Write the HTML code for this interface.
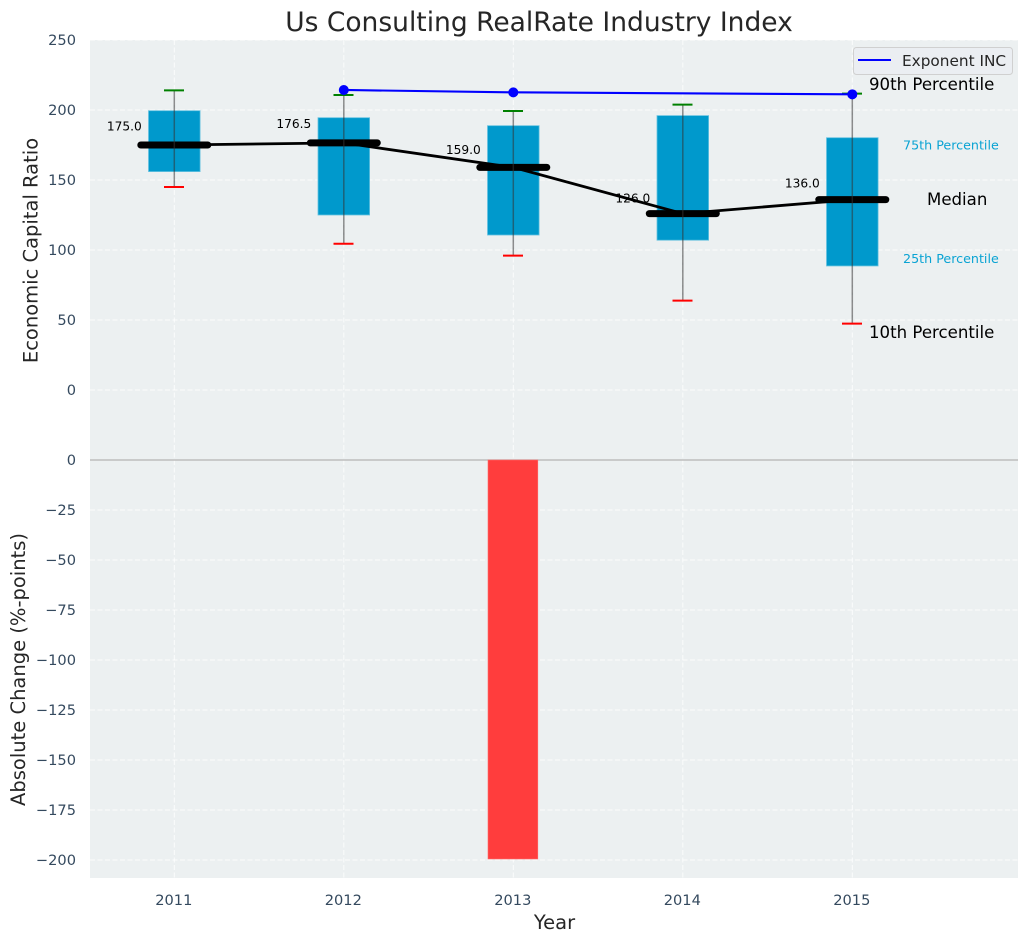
<!DOCTYPE html>
<html lang="en">
<head>
<meta charset="utf-8">
<title>Us Consulting RealRate Industry Index</title>
<style>
html,body{margin:0;padding:0;background:#fff;}
svg{display:block;font-family:"DejaVu Sans","Liberation Sans",sans-serif;}
</style>
</head>
<body>
<svg id="chart" xmlns="http://www.w3.org/2000/svg" width="1029" height="942" viewBox="0 0 1029 942">
  <rect x="90" y="40" width="928" height="838" fill="#ecf0f1"/>
  <g id="grid"></g>
  <g id="ticks"></g>
  <g id="marks"></g>

  <text x="539" y="31" text-anchor="middle" font-size="26.5px" fill="#262626">Us Consulting RealRate Industry Index</text>
  <text transform="translate(37.5,250.5) rotate(-90)" text-anchor="middle" font-size="19.5px" fill="#262626">Economic Capital Ratio</text>
  <text transform="translate(25,669.5) rotate(-90)" text-anchor="middle" font-size="19.5px" fill="#262626">Absolute Change (%-points)</text>
  <text x="554.5" y="929" text-anchor="middle" font-size="19.5px" fill="#262626">Year</text>

  <text x="869" y="90" font-size="16.6px" fill="#000">90th Percentile</text>
  <text x="903" y="149.5" font-size="12.7px" fill="#0aa3d3">75th Percentile</text>
  <text x="927" y="205" font-size="16.6px" fill="#000">Median</text>
  <text x="903" y="263" font-size="12.7px" fill="#0aa3d3">25th Percentile</text>
  <text x="869" y="338" font-size="16.6px" fill="#000">10th Percentile</text>

  <g>
    <rect x="853.5" y="47.5" width="159" height="27" rx="3" fill="#ebedf2" fill-opacity="0.9" stroke="#d0d0d0" stroke-width="1"/>
    <line x1="858" y1="60" x2="891" y2="60" stroke="#0000ff" stroke-width="2.1"/>
    <text x="902" y="66" font-size="15.3px" fill="#262626">Exponent INC</text>
  </g>
</svg>
<script>
const years = [2011, 2012, 2013, 2014, 2015];
const p10 = [145, 104.5, 96, 63.8, 47.4];
const q1 = [156, 125, 110.7, 107, 88.6];
const medians = [175, 176.5, 159, 126, 136];
const q3 = [199.5, 194.5, 188.8, 196, 180.2];
const p90 = [214, 210.7, 199.3, 203.8, 211.7];
const exponentInc = [null, 214.3, 212.6, null, 211.2];
const absoluteChange = [null, null, -199.5, null, null];
const topTicks = [0, 50, 100, 150, 200, 250];
const bottomTicks = [0, -25, -50, -75, -100, -125, -150, -175, -200];

const NS = 'http://www.w3.org/2000/svg';
const gridLayer = document.getElementById('grid');
const tickLayer = document.getElementById('ticks');
const markLayer = document.getElementById('marks');

function xScale(year) { return 174.3 + (year - 2011) * 169.5; }
function yTop(v) { return 390 - v * 1.4; }
function yBottom(v) { return 460 - v * 2; }

function svgEl(tag, attrs, parent) {
  const node = document.createElementNS(NS, tag);
  Object.keys(attrs).forEach(function (k) { node.setAttribute(k, attrs[k]); });
  parent.appendChild(node);
  return node;
}
function gridStyle(a) {
  a.stroke = '#ffffff';
  a['stroke-opacity'] = 0.8;
  a['stroke-width'] = 1;
  a['stroke-dasharray'] = '5 2.5';
  return a;
}
function tickText(v) { return String(v).replace('-', '\u2212'); }

topTicks.forEach(function (t) {
  const gl = svgEl('line', gridStyle({ x1: 90, x2: 1018, y1: yTop(t), y2: yTop(t) }), gridLayer);
  
  
  const lb = svgEl('text', { x: 76, y: yTop(t) + 5, 'text-anchor': 'end', 'font-size': '14.6px', fill: '#34495e' }, tickLayer);
  lb.textContent = tickText(t);
  
  
});
bottomTicks.forEach(function (t) {
  if (t !== 0) {
    const gl = svgEl('line', gridStyle({ x1: 90, x2: 1018, y1: yBottom(t), y2: yBottom(t) }), gridLayer);
    
    
  }
  const lb = svgEl('text', { x: 76, y: yBottom(t) + 5, 'text-anchor': 'end', 'font-size': '14.6px', fill: '#34495e' }, tickLayer);
  lb.textContent = tickText(t);
  
  
});
years.forEach(function (y) {
  const gl = svgEl('line', gridStyle({ x1: xScale(y), x2: xScale(y), y1: 40, y2: 878 }), gridLayer);
  
  
  const lb = svgEl('text', { x: xScale(y) - 0.5, y: 905, 'text-anchor': 'middle', 'font-size': '14.6px', fill: '#34495e' }, tickLayer);
  lb.textContent = String(y);
  
  
});

const zeroLine = svgEl('line', { x1: 90, x2: 1018, y1: yBottom(0), y2: yBottom(0), stroke: '#bdbdbd', 'stroke-width': 1.5 }, markLayer);



absoluteChange.forEach(function (v, i) {
  if (v === null) return;
  const bar = svgEl('rect', { x: xScale(years[i]) - 25.3, y: yBottom(0), width: 49.8, height: yBottom(v) - yBottom(0), fill: '#ff3d3d', stroke: '#ff6b6b', 'stroke-width': 0.6 }, markLayer);
  
  
});

years.forEach(function (y, i) {
  const x = xScale(y);
  const box = svgEl('rect', { x: x - 25.8, y: yTop(q3[i]), width: 51.6, height: yTop(q1[i]) - yTop(q3[i]), fill: '#0099cc', stroke: '#66c2e0', 'stroke-width': 0.8 }, markLayer);
  
  

  const label = svgEl('text', { x: x - 32.5, y: yTop(medians[i] * 1.05 + 5) + 4.5, 'text-anchor': 'end', 'font-size': '12.2px', fill: '#000' }, markLayer);
  label.textContent = medians[i].toFixed(1);
  
  
});

const trend = svgEl('polyline', {
  points: years.map(function (y, i) { return xScale(y) + ',' + yTop(medians[i]); }).join(' '),
  fill: 'none', stroke: '#000', 'stroke-width': 2.8
}, markLayer);



years.forEach(function (y, i) {
  const x = xScale(y);
  const med = svgEl('line', { x1: x - 33.5, x2: x + 33.5, y1: yTop(medians[i]), y2: yTop(medians[i]), stroke: '#000', 'stroke-width': 7, 'stroke-linecap': 'round' }, markLayer);
  
  

  const whisker = svgEl('line', { x1: x, x2: x, y1: yTop(p90[i]), y2: yTop(p10[i]), stroke: '#333333', 'stroke-opacity': 0.55, 'stroke-width': 1.5 }, markLayer);
  
  

  const capHigh = svgEl('line', { x1: x - 10.3, x2: x + 9.7, y1: yTop(p90[i]), y2: yTop(p90[i]), stroke: '#008000', 'stroke-width': 2 }, markLayer);
  
  

  const capLow = svgEl('line', { x1: x - 10.3, x2: x + 9.7, y1: yTop(p10[i]), y2: yTop(p10[i]), stroke: '#ff0000', 'stroke-width': 2 }, markLayer);
  
  
});

const exponentPoints = [];
exponentInc.forEach(function (v, i) {
  if (v !== null) exponentPoints.push(xScale(years[i]) + ',' + yTop(v));
});
const exponentLine = svgEl('polyline', { points: exponentPoints.join(' '), fill: 'none', stroke: '#0000ff', 'stroke-width': 2.1 }, markLayer);



exponentInc.forEach(function (v, i) {
  if (v === null) return;
  const dot = svgEl('circle', { cx: xScale(years[i]), cy: yTop(v), r: 5, fill: '#0000ff' }, markLayer);
  
  
});
</script>
</body>
</html>
